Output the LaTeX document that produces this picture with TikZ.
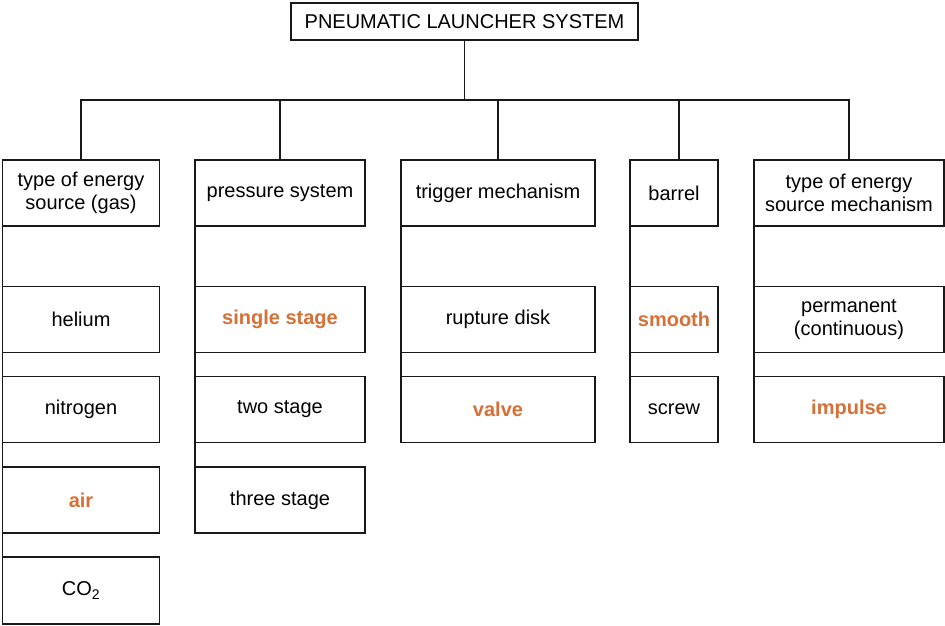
\documentclass[tikz,border=0pt]{standalone}
\usepackage{fontspec}
\setmainfont{Liberation Sans}
\definecolor{hl}{RGB}{214,112,54}
\definecolor{ln}{RGB}{25,25,25}
\begin{document}
\begin{tikzpicture}[x=1pt,y=-1pt,
  every node/.style={font=\fontsize{20}{23.5}\selectfont},
  box/.style={draw=ln,line width=1.5pt,fill=white,align=center,inner sep=0pt,outer sep=0pt,minimum height=66pt},
  hot/.style={text=hl,font=\fontsize{20}{23.5}\selectfont\bfseries},
  conn/.style={draw=ln,line width=1.5pt}]
\useasboundingbox (0,0) rectangle (945,626);
\node[box,minimum width=347pt,minimum height=37pt] (root) at (464.5,21.5) {PNEUMATIC LAUNCHER SYSTEM};
\coordinate (bus) at (464.5,100);
% headers
\node[box,minimum width=157pt] (h1) at (81,193) {type of energy\\source (gas)};
\node[box,minimum width=170pt] (h2) at (280,193) {pressure system};
\node[box,minimum width=194pt] (h3) at (498,193) {trigger mechanism};
\node[box,minimum width=88pt] (h4) at (674,193) {barrel};
\node[box,minimum width=190pt] (h5) at (849,193) {type of energy\\source mechanism};
% connectors
\draw[conn] (root.south) -- (bus);
\draw[conn] (bus) -| (h1.north);
\draw[conn] (bus) -| (h2.north);
\draw[conn] (bus) -| (h3.north);
\draw[conn] (bus) -| ([xshift=5pt]h4.north);
\draw[conn] (bus) -| (h5.north);
% column 1
\node[box,minimum width=157pt] (c11) at (81,319.5) {helium};
\node[box,minimum width=157pt] (c12) at (81,409.5) {nitrogen};
\node[box,minimum width=157pt,hot] (c13) at (81,500) {air};
\node[box,minimum width=157pt,minimum height=67pt] (c14) at (81,590.5) {CO\textsubscript{2}};
% column 2
\node[box,minimum width=170pt,hot] (c21) at (280,319.5) {single stage};
\node[box,minimum width=170pt] (c22) at (280,409.5) {two stage};
\node[box,minimum width=170pt] (c23) at (280,500) {three stage};
% column 3
\node[box,minimum width=194pt] (c31) at (498,319.5) {rupture disk};
\node[box,minimum width=194pt,hot] (c32) at (498,409.5) {valve};
% column 4
\node[box,minimum width=88pt,hot] (c41) at (674,319.5) {smooth};
\node[box,minimum width=88pt] (c42) at (674,409.5) {screw};
% column 5
\node[box,minimum width=190pt] (c51) at (849,319.5) {permanent\\(continuous)};
\node[box,minimum width=190pt,hot] (c52) at (849,409.5) {impulse};
% left spines
\draw[conn] (h1.south west) -- (c14.north west);
\draw[conn] (h2.south west) -- (c23.north west);
\draw[conn] (h3.south west) -- (c32.north west);
\draw[conn] (h4.south west) -- (c42.north west);
\draw[conn] (h5.south west) -- (c52.north west);
\end{tikzpicture}
\end{document}
